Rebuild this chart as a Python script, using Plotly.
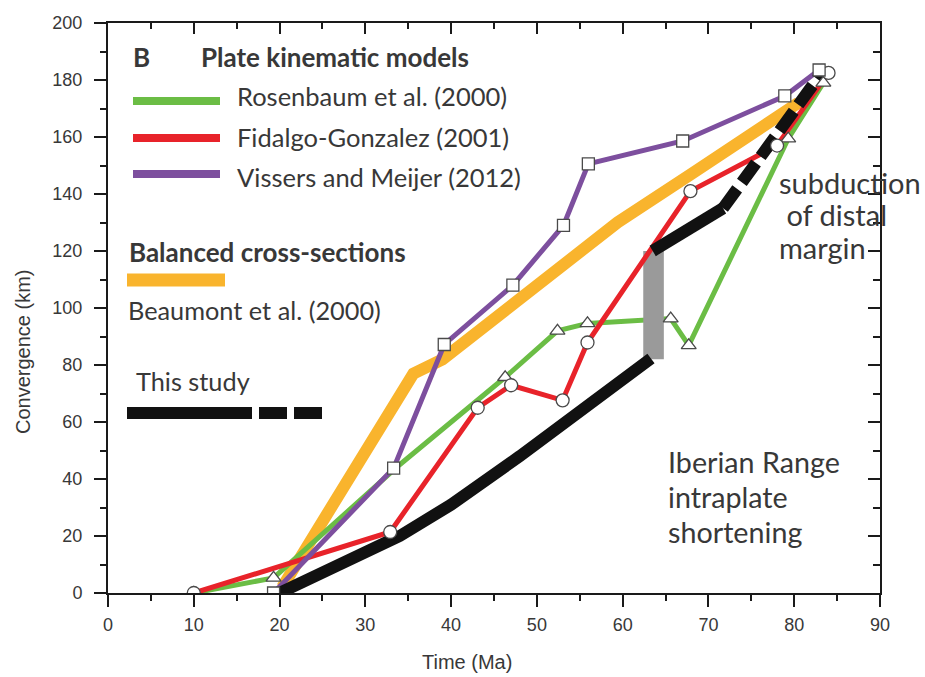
import plotly.graph_objects as go

# --- Convergence histories (time in Ma, convergence in km) ---
ros_t = [10, 19.3, 34.0, 46.3, 52.4, 55.9, 65.6, 67.7, 79.3, 83.4]
ros_c = [0, 5.3, 45, 75.7, 92, 94.6, 96.3, 86.9, 159.4, 179]
ros_marked = [True, True, False, True, True, True, True, True, True, True]

fid_t = [10, 32.9, 43.1, 47.0, 53.0, 55.9, 67.9, 78.0, 84.0]
fid_c = [0, 21.4, 65, 72.9, 67.6, 87.9, 141, 157, 182.5]

vis_t = [19.3, 33.3, 39.2, 47.2, 53.1, 56.0, 67.0, 78.9, 82.9]
vis_c = [0, 43.8, 87.2, 108, 129, 150.6, 158.6, 174.4, 183.5]

beau_t = [20.3, 35.6, 39, 47.7, 53, 59.4, 68, 77, 80.5]
beau_c = [2, 77, 82, 102, 114, 130, 147, 165, 172]

# This study: intraplate shortening, then subduction of the distal margin
study1_t = [20, 34, 40, 48, 63.3]
study1_c = [0, 20, 31, 48, 82.3]
study2_t = [63.5, 71.7]
study2_c = [120, 135]
study3_t = [71.7, 83.2]
study3_c = [135, 182.5]

# Grey gap between the two stages
gap_center, gap_width = 63.6, 2.4
gap_bottom, gap_top = 82, 120

x_ticks = [0, 10, 20, 30, 40, 50, 60, 70, 80, 90]
y_ticks = [0, 20, 40, 60, 80, 100, 120, 140, 160, 180, 200]

GREEN = "#6bbd45"
RED = "#e8232a"
PURPLE = "#7d4f9e"
ORANGE = "#f9b42d"
BLACK = "#111111"
GREY = "#9a9a9a"
TXT = "#383838"

fig = go.Figure()

fig.add_trace(go.Scatter(x=beau_t, y=beau_c, mode="lines",
                         line=dict(color=ORANGE, width=12), showlegend=False))
fig.add_trace(go.Scatter(x=ros_t, y=ros_c, mode="lines",
                         line=dict(color=GREEN, width=5), showlegend=False))
gx0, gx1 = gap_center - gap_width / 2, gap_center + gap_width / 2
fig.add_trace(go.Scatter(x=[gx0, gx1, gx1, gx0, gx0],
                         y=[gap_bottom, gap_bottom, gap_top, gap_top, gap_bottom],
                         mode="lines", fill="toself", fillcolor=GREY,
                         line=dict(width=0, color=GREY), showlegend=False))
fig.add_trace(go.Scatter(x=fid_t, y=fid_c, mode="lines",
                         line=dict(color=RED, width=5), showlegend=False))
fig.add_trace(go.Scatter(x=vis_t, y=vis_c, mode="lines",
                         line=dict(color=PURPLE, width=5), showlegend=False))
fig.add_trace(go.Scatter(x=study1_t, y=study1_c, mode="lines",
                         line=dict(color=BLACK, width=12), showlegend=False))
fig.add_trace(go.Scatter(x=study2_t, y=study2_c, mode="lines",
                         line=dict(color=BLACK, width=12), showlegend=False))
fig.add_trace(go.Scatter(x=study3_t, y=study3_c, mode="lines",
                         line=dict(color=BLACK, width=12, dash="24px,8px"),
                         showlegend=False))

# open symbols on top of all the lines
mk = dict(color="white", size=13, line=dict(color="#4a4a4a", width=1.3))
fig.add_trace(go.Scatter(x=[t for t, m in zip(ros_t, ros_marked) if m],
                         y=[c for c, m in zip(ros_c, ros_marked) if m],
                         mode="markers", marker=dict(symbol="triangle-up", **mk),
                         showlegend=False))
fig.add_trace(go.Scatter(x=fid_t, y=fid_c, mode="markers",
                         marker=dict(symbol="circle", **mk), showlegend=False))
fig.add_trace(go.Scatter(x=vis_t, y=vis_c, mode="markers",
                         marker=dict(symbol="square", **dict(mk, size=12)),
                         showlegend=False))

# invisible trace so the mirrored frame axes are drawn
fig.add_trace(go.Scatter(x=[None], y=[None], xaxis="x2", yaxis="y2",
                         showlegend=False, hoverinfo="skip"))

L, R, T, B = 108, 880, 23, 593


def px(x):
    return (x - L) / (R - L)


def py(y):
    return (B - y) / (B - T)


axis_common = dict(showgrid=False, zeroline=False, showline=True,
                   linecolor="#1a1a1a", linewidth=2, tickcolor="#1a1a1a",
                   tickwidth=1.8)
tick_font = dict(family="Liberation Sans", size=18, color=TXT)

fig.update_layout(
    width=925, height=677,
    margin=dict(l=L, r=925 - R, t=T, b=677 - B),
    paper_bgcolor="white", plot_bgcolor="white",
    xaxis=dict(range=[0, 90], tickvals=x_ticks, ticks="outside", ticklen=12,
               minor=dict(dtick=5, ticks="outside", ticklen=6, tickcolor="#1a1a1a"),
               tickfont=tick_font, ticklabelstandoff=2, **axis_common),
    yaxis=dict(range=[0, 200], tickvals=y_ticks, ticks="outside", ticklen=12,
               minor=dict(dtick=10, ticks="outside", ticklen=6, tickcolor="#1a1a1a"),
               tickfont=tick_font, ticklabelstandoff=8, **axis_common),
    xaxis2=dict(range=[0, 90], overlaying="x", side="top", anchor="y",
                tickvals=x_ticks, ticks="inside", ticklen=11, showticklabels=False,
                minor=dict(dtick=5, ticks="inside", ticklen=6, tickcolor="#1a1a1a"),
                **axis_common),
    yaxis2=dict(range=[0, 200], overlaying="y", side="right", anchor="x",
                tickvals=y_ticks, ticks="inside", ticklen=12, showticklabels=False,
                minor=dict(dtick=10, ticks="inside", ticklen=7, tickcolor="#1a1a1a"),
                **axis_common),
)

LEG_FONT = "Lato"
ann = []


def text(x, y, s, size=22, bold=False, angle=0, family=LEG_FONT, anchor="left"):
    ann.append(dict(x=px(x), y=py(y), xref="paper", yref="paper", text=s,
                    showarrow=False, xanchor=anchor, yanchor="middle",
                    textangle=angle,
                    font=dict(family=family, size=size, color=TXT,
                              weight="bold" if bold else "normal")))


# axis titles
text(467, 662, "Time (Ma)", size=20, family="Liberation Sans", anchor="center")
text(23, 352, "Convergence (km)", size=20, family="Liberation Sans",
     angle=-90, anchor="center")

# legend block
text(131, 57, "B", size=26, bold=True)
text(199, 57, "Plate kinematic models", size=26, bold=True)
text(235, 96, "Rosenbaum et al. (2000)", size=25.5)
text(235, 137, "Fidalgo-Gonzalez (2001)", size=25.5)
text(235, 177, "Vissers and Meijer (2012)", size=25.5)
text(127, 252, "Balanced cross-sections", size=26, bold=True)
text(126, 310, "Beaumont et al. (2000)", size=25.3)
text(134, 381, "This study", size=25.3)

# region labels
for i, s in enumerate(["subduction", " of distal", "margin"]):
    text(777, 182 + i * 32.5, s, size=29)
for i, s in enumerate(["Iberian Range", "intraplate", "shortening"]):
    text(666, 462 + i * 35, s, size=28.7)

fig.update_layout(annotations=ann)

shapes = []


def swatch(x0, x1, y, color, w):
    shapes.append(dict(type="line", xref="paper", yref="paper",
                       x0=px(x0), x1=px(x1), y0=py(y), y1=py(y),
                       line=dict(color=color, width=w)))


swatch(133, 220, 101, GREEN, 8)
swatch(133, 220, 138, RED, 8)
swatch(133, 220, 174, PURPLE, 8)
swatch(127, 225, 280, ORANGE, 13)
swatch(127, 252, 413, BLACK, 12)
swatch(259, 287, 413, BLACK, 12)
swatch(294, 322, 413, BLACK, 12)
fig.update_layout(shapes=shapes)

fig.write_html("out.html")
